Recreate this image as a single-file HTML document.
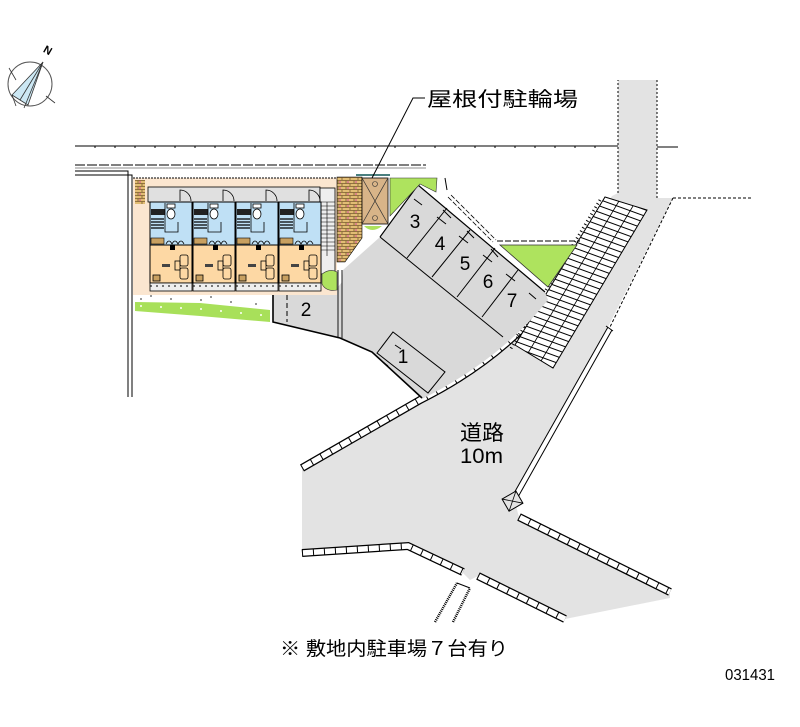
<!DOCTYPE html>
<html><head><meta charset="utf-8">
<style>
html,body{margin:0;padding:0;background:#fff}
svg{display:block}
text{font-family:"Liberation Sans","Noto Sans CJK JP",sans-serif;fill:#000}
</style></head>
<body>
<svg width="800" height="727" viewBox="0 0 800 727" xmlns="http://www.w3.org/2000/svg">
<defs>
<pattern id="brick" width="8" height="6" patternUnits="userSpaceOnUse">
<rect width="8" height="6" fill="#e2bd74"/>
<path d="M0,0.5H8M0,3.5H8M2,0.5V3.5M6,3.5V6" stroke="#7a5a30" stroke-width="0.8"/>
<rect x="3" y="1.3" width="2" height="1.5" fill="#d8708e"/>
</pattern>
<pattern id="hatch" width="20" height="6" patternUnits="userSpaceOnUse" patternTransform="rotate(20)">
<rect width="20" height="6" fill="#fff"/>
<line x1="0" y1="0.5" x2="20" y2="0.5" stroke="#000" stroke-width="1.1"/>
</pattern>
</defs>

<!-- compass -->
<circle cx="30" cy="84" r="22" fill="none" stroke="#555" stroke-width="1"/>
<path d="M43,62 L12,95 L28,105 Z" fill="#cce8f4" stroke="#333" stroke-width="0.8"/>
<path d="M43,62 L20,100 M43,62 L24,108 M12,95 L16,106" stroke="#333" stroke-width="0.8" fill="none"/>
<path d="M9,68 L16,80 M46,96 L55,103" stroke="#333" stroke-width="0.8"/>
<text x="44" y="54" font-size="11" transform="rotate(30 48 50)" font-weight="bold">N</text>

<!-- top boundary lines -->
<path d="M75,146 H618 M657,147 H678" stroke="#000" stroke-width="1"/>
<path d="M95,146v2M115,146v2M135,146v2M155,146v2M175,146v2M195,146v2M215,146v2M235,146v2M255,146v2M275,146v2M295,146v2M315,146v2M335,146v2M355,146v2M375,146v2M395,146v2M415,146v2M435,146v2M455,146v2M475,146v2M495,146v2M515,146v2M535,146v2M555,146v2M575,146v2M595,146v2" stroke="#000" stroke-width="1"/>
<path d="M75,165 H426" stroke="#000" stroke-width="1" stroke-dasharray="10,2"/>
<path d="M75,168 H426" stroke="#666" stroke-width="0.8"/>
<path d="M75,171 H128 V397 M75,175 H132 V397" stroke="#000" stroke-width="1" fill="none"/>

<!-- road -->
<path d="M302,468 L420,400 Q500,360 548,300 L612,196 L618,193 L618,80 L657,80 L657,198 L673,198 L608,327 L513,495 L519,517 L670,592 L670,598 L565,619 L478,576 L470,580 L463,573 L408,546 L302,553 Z" fill="#e3e3e3"/>
<path d="M618,193 V80 M657,80 V198" stroke="#000" stroke-width="1" stroke-dasharray="2,2" fill="none"/>
<path d="M673,198 H752 M673,198 L610,327" stroke="#000" stroke-width="1" stroke-dasharray="3,2" fill="none"/>
<path d="M513,495 L608,327 M518,497 L612,330 M606,326 L613,331" stroke="#000" stroke-width="1" fill="none"/>
<g transform="translate(513,502) rotate(-30)">
<rect x="-8" y="-8" width="16" height="14" fill="#e3e3e3" stroke="#000" stroke-width="1"/>
<path d="M-8,-8 L8,6 M8,-8 L-8,6" stroke="#000" stroke-width="0.8"/>
</g>

<!-- curbs -->
<g fill="none">
<path d="M302,468 L420,400 Q500,360 548,300" stroke="#000" stroke-width="8"/>
<path d="M302,468 L420,400 Q500,360 548,300" stroke="#fff" stroke-width="5.5"/>
<path d="M302,468 L420,400 Q500,360 548,300" stroke="#000" stroke-width="6" stroke-dasharray="1,10"/>
<path d="M302,553 L408,546 L463,572" stroke="#000" stroke-width="8"/>
<path d="M302,553 L408,546 L463,572" stroke="#fff" stroke-width="5.5"/>
<path d="M302,553 L408,546 L463,572" stroke="#000" stroke-width="6" stroke-dasharray="1,10"/>
<path d="M478,576 L565,619" stroke="#000" stroke-width="8"/>
<path d="M478,576 L565,619" stroke="#fff" stroke-width="5.5"/>
<path d="M478,576 L565,619" stroke="#000" stroke-width="6" stroke-dasharray="1,10"/>
<path d="M519,517 L670,592" stroke="#000" stroke-width="8"/>
<path d="M519,517 L670,592" stroke="#fff" stroke-width="5.5"/>
<path d="M519,517 L670,592" stroke="#000" stroke-width="6" stroke-dasharray="1,10"/>
</g>

<!-- entrance path -->
<path d="M435,622 L457,583 M453,622 L470,588" stroke="#000" stroke-width="2.5" stroke-dasharray="1,1" fill="none"/>
<path d="M457,583 L470,588" stroke="#000" stroke-width="1"/>

<!-- staircase -->
<polygon points="605,197 647,210 553,368 515,345" fill="url(#hatch)" stroke="#000" stroke-width="1"/>
<path d="M619,201 L528,353 M633,206 L541,361" stroke="#000" stroke-width="0.8"/>
<path d="M600,200 L510,350" stroke="#000" stroke-width="3" stroke-dasharray="1,3" fill="none"/>

<!-- parking lot -->
<path d="M273,293 L333,293 L342,282 L343,270 L380,237 L418,185 L545,292 L548,300 Q500,360 422,399 L372,352 L340,338 L273,322 Z" fill="#d9d9d9"/>
<path d="M380,237 L418,185 L545,292" stroke="#000" stroke-width="1.2" fill="none"/>
<path d="M380,237 L503,337" stroke="#000" stroke-width="1"/>
<path d="M447,208 L407,258 M470,230 L432,277 M495,248 L457,297 M518,270 L482,317" stroke="#000" stroke-width="1"/>
<path d="M414,199 L422,205 M437,217 L446,224 M459,236 L468,243 M483,255 L492,262 M506,274 L515,281 M529,293 L536,299 M443,210 L451,218 M467,231 L474,238 M491,249 L498,257" stroke="#000" stroke-width="1"/>
<path d="M422,398 L372,352 L340,338 L273,322 V293" stroke="#000" stroke-width="1.6" fill="none"/>
<path d="M338,270 V338 M342,270 V338" stroke="#000" stroke-width="0.9"/>
<path d="M287,295 V322" stroke="#000" stroke-width="1" stroke-dasharray="5,3"/>
<polygon points="393,332 445,372 428,393 377,353" fill="none" stroke="#000" stroke-width="1"/>
<path d="M395,345 L401,349 M383,362 L388,366" stroke="#000" stroke-width="1"/>

<!-- green areas -->
<polygon points="500,245 577,245 548,287" fill="#aee35e" stroke="#333" stroke-width="0.8"/>
<path d="M497,241 H580" stroke="#000" stroke-width="1" stroke-dasharray="6,2"/>
<path d="M448,197 L493,242 M451,195 L496,240" stroke="#000" stroke-width="0.8" stroke-dasharray="5,2"/>
<path d="M445,178 L447,190" stroke="#000" stroke-width="1"/>
<polygon points="390,178 437,178 436,192 420,184 390,216" fill="#aee35e" stroke="#333" stroke-width="0.6"/>

<!-- building base -->
<rect x="133" y="178" width="204" height="117" fill="#fbe6d0"/>
<path d="M133,178 H337" stroke="#000" stroke-width="1" stroke-dasharray="2,1"/>
<rect x="135" y="180" width="10" height="24" fill="url(#brick)"/>
<rect x="148" y="187" width="172" height="15" fill="#e0e0e0" stroke="#000" stroke-width="0.8"/>
<rect x="320" y="188" width="15" height="86" fill="#eee" stroke="#000" stroke-width="0.8"/>
<path d="M320,202H335M320,206H335M320,210H335M320,214H335M320,218H335M320,222H335M320,226H335M320,230H335M320,234H335M320,238H335M320,242H335M320,246H335M320,250H335M327,202V256" stroke="#000" stroke-width="0.6"/>
<path d="M322,274 Q330,268 337,272 L337,290 Q326,292 322,284 Z" fill="#aee35e" stroke="#333" stroke-width="0.6"/>
<polygon points="135,302 200,303 270,310 270,322 200,316 135,311" fill="#a8e05a"/>
<path d="M140,306h2M160,307h2M180,308h2M200,309h2M220,311h2M240,313h2M260,315h2" stroke="#fff" stroke-width="1.5"/>
<path d="M140,299h2M170,299h2M200,300h2M230,302h2M255,304h2M150,296h2M210,297h2" stroke="#333" stroke-width="1"/>

<!-- units -->
<g id="u1">
<rect x="150" y="202" width="42" height="43" fill="#bfe0f5" stroke="#000" stroke-width="1"/>
<rect x="150" y="245" width="42" height="38" fill="#fdd8a4" stroke="#000" stroke-width="1"/>
<rect x="150" y="283" width="42" height="8" fill="#eee" stroke="#000" stroke-width="0.8"/>
<path d="M180,201 V190 A11,11 0 0 1 191,201" stroke="#000" stroke-width="0.8" fill="none"/>
<rect x="167" y="204" width="8" height="4" fill="#fff" stroke="#000" stroke-width="0.8"/>
<ellipse cx="171" cy="214" rx="4" ry="5" fill="#fff" stroke="#000" stroke-width="0.8"/>
<rect x="151" y="209" width="14" height="6" fill="#222"/>
<path d="M151,219H164M151,222H164M151,225H164M151,228H164" stroke="#000" stroke-width="1.3"/>
<path d="M165,203V232H178V222" stroke="#000" stroke-width="0.8" fill="none"/>
<rect x="151" y="238" width="13" height="6" fill="#c8a060" stroke="#000" stroke-width="0.6"/>
<path d="M166,244 q3,-6 6,0 q3,-6 6,0 q3,-6 6,0" stroke="#000" stroke-width="0.8" fill="none"/>
<rect x="170" y="245" width="5" height="5" fill="#000"/>
<rect x="180" y="255" width="8" height="11" rx="2" fill="none" stroke="#000" stroke-width="0.8"/>
<rect x="180" y="268" width="8" height="11" rx="2" fill="none" stroke="#000" stroke-width="0.8"/>
<rect x="175" y="261" width="5" height="9" fill="none" stroke="#000" stroke-width="0.8"/>
<rect x="162" y="264" width="8" height="3" fill="#444"/>
<rect x="153" y="275" width="7" height="6" fill="#c8a060" stroke="#000" stroke-width="0.8"/>
<path d="M150,286h2M156,286h2M162,286h2M168,286h2M174,286h2M180,286h2M186,286h2" stroke="#000" stroke-width="1"/>
</g>
<use href="#u1" x="43"/>
<use href="#u1" x="86"/>
<use href="#u1" x="129"/>

<!-- brick & bike shed -->
<polygon points="337,177 362,177 362,238 345,262 337,262" fill="url(#brick)" stroke="#000" stroke-width="0.6"/>
<rect x="362" y="178" width="26" height="46" fill="#d8b488" stroke="#000" stroke-width="0.8"/>
<path d="M362,178 L388,224 M388,178 L362,224" stroke="#333" stroke-width="0.7"/>
<circle cx="375" cy="184" r="2.5" fill="none" stroke="#333" stroke-width="0.6"/>
<circle cx="375" cy="218" r="2.5" fill="none" stroke="#333" stroke-width="0.6"/>
<path d="M364,226 Q372,234 382,226 Z" fill="#aee35e"/>
<path d="M356,175 H390" stroke="#4a8080" stroke-width="2"/>

<!-- labels -->
<path d="M425,98 H413 L372,178" stroke="#000" stroke-width="1" fill="none"/>
<text x="427" y="106" font-size="20" textLength="151" lengthAdjust="spacingAndGlyphs">屋根付駐輪場</text>

<g font-size="19" text-anchor="middle">
<text x="415" y="228">3</text>
<text x="440" y="250">4</text>
<text x="465" y="270">5</text>
<text x="488" y="288">6</text>
<text x="512" y="307">7</text>
<text x="403" y="363">1</text>
<text x="306" y="316">2</text>
</g>

<text x="460" y="440" font-size="21" textLength="44" lengthAdjust="spacingAndGlyphs">道路</text>
<text x="460" y="463" font-size="21" textLength="43" lengthAdjust="spacingAndGlyphs">10m</text>

<text x="280" y="655" font-size="19" textLength="228" lengthAdjust="spacingAndGlyphs">※ 敷地内駐車場７台有り</text>
<text x="725" y="680" font-size="16" textLength="50" lengthAdjust="spacingAndGlyphs">031431</text>
</svg>
</body></html>
